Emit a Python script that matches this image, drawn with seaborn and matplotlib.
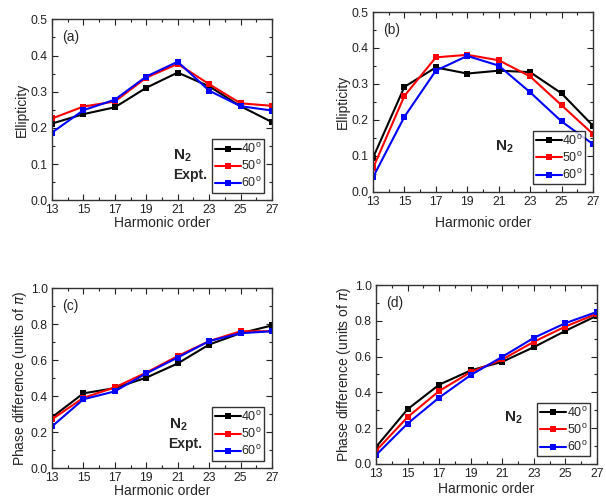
import numpy as np
import pandas as pd
import matplotlib
matplotlib.use("Agg")
import matplotlib.pyplot as plt
from matplotlib.ticker import MultipleLocator
import seaborn as sns

# harmonic orders
harmonics = [13, 15, 17, 19, 21, 23, 25, 27]
angles = ["40", "50", "60"]

# (a) ellipticity, experiment
ell_exp_40 = [0.212, 0.238, 0.257, 0.311, 0.353, 0.315, 0.260, 0.216]
ell_exp_50 = [0.226, 0.259, 0.273, 0.339, 0.377, 0.321, 0.268, 0.261]
ell_exp_60 = [0.187, 0.249, 0.278, 0.342, 0.383, 0.303, 0.260, 0.248]

# (b) ellipticity, theory
ell_th_40 = [0.095, 0.292, 0.346, 0.329, 0.337, 0.333, 0.274, 0.184]
ell_th_50 = [0.066, 0.267, 0.374, 0.381, 0.366, 0.321, 0.241, 0.161]
ell_th_60 = [0.041, 0.209, 0.337, 0.378, 0.351, 0.277, 0.196, 0.133]

# (c) phase difference, experiment
ph_exp_40 = [0.282, 0.415, 0.444, 0.502, 0.581, 0.686, 0.749, 0.792]
ph_exp_50 = [0.271, 0.390, 0.448, 0.530, 0.622, 0.705, 0.760, 0.760]
ph_exp_60 = [0.231, 0.382, 0.426, 0.526, 0.614, 0.705, 0.749, 0.760]

# (d) phase difference, theory
ph_th_40 = [0.095, 0.306, 0.443, 0.523, 0.571, 0.653, 0.744, 0.829]
ph_th_50 = [0.074, 0.262, 0.408, 0.514, 0.584, 0.683, 0.768, 0.840]
ph_th_60 = [0.050, 0.226, 0.371, 0.497, 0.599, 0.705, 0.787, 0.850]

sns.set_style("ticks")
plt.rcParams['font.family'] = ['Liberation Sans', 'DejaVu Sans']
plt.rcParams['mathtext.fontset'] = 'custom'
plt.rcParams['mathtext.rm'] = 'Liberation Sans'
plt.rcParams['mathtext.bf'] = 'Liberation Sans:bold'

colors = {"40": "black", "50": "red", "60": "blue"}


def make_df(s40, s50, s60):
    rows = []
    for ang, vals in zip(angles, [s40, s50, s60]):
        for h, v in zip(harmonics, vals):
            rows.append({"harmonic": h, "value": v, "angle": ang})
    return pd.DataFrame(rows)


# tag, data, ylabel, ymax, ystep, expt?, axes rect, N2 text position, xlabel pad
panels = [
    ("(a)", make_df(ell_exp_40, ell_exp_50, ell_exp_60), "Ellipticity", 0.5, 0.1, True,
     [0.0858, 0.598, 0.363, 0.363], (0.55, 0.245), 0),
    ("(b)", make_df(ell_th_40, ell_th_50, ell_th_60), "Ellipticity", 0.5, 0.1, False,
     [0.6155, 0.6145, 0.363, 0.3614], (0.555, 0.25), 6),
    ("(c)", make_df(ph_exp_40, ph_exp_50, ph_exp_60), r"Phase difference (units of $\pi$)", 1.0, 0.2, True,
     [0.0858, 0.0602, 0.363, 0.3614], (0.53, 0.24), 0),
    ("(d)", make_df(ph_th_40, ph_th_50, ph_th_60), r"Phase difference (units of $\pi$)", 1.0, 0.2, False,
     [0.6205, 0.0683, 0.3647, 0.3594], (0.58, 0.26), 1.5),
]

fig = plt.figure(figsize=(6.06, 4.98), dpi=100)

for tag, df, ylab, ymax, ystep, expt, pos, npos, xpad in panels:
    ax = fig.add_axes(pos)
    for ang in angles:
        sub = df[df["angle"] == ang]
        sns.lineplot(data=sub, x="harmonic", y="value", ax=ax, color=colors[ang],
                     marker="s", markersize=4.5, markeredgewidth=0, linewidth=1.5,
                     label="%s$^{\\rm o}$" % ang)
    ax.set_xlim(13, 27)
    ax.set_ylim(0, ymax)
    ax.set_xticks(harmonics)
    ax.xaxis.set_minor_locator(MultipleLocator(1))
    ax.yaxis.set_major_locator(MultipleLocator(ystep))
    ax.yaxis.set_minor_locator(MultipleLocator(ystep / 2))
    ax.yaxis.set_major_formatter(plt.FormatStrFormatter("%.1f"))
    ax.tick_params(which="both", direction="in", top=True, right=True, labelsize=8.8, pad=3,
                   colors="#222222")
    ax.tick_params(which="major", length=4, width=0.8)
    ax.tick_params(which="minor", length=2, width=0.8)
    for sp in ax.spines.values():
        sp.set_linewidth(1.0)
        sp.set_color("#333333")
    ax.set_xlabel("Harmonic order", fontsize=10, labelpad=xpad)
    ax.set_ylabel(ylab, fontsize=10, labelpad=1)
    ax.text(0.045, 0.94, tag, transform=ax.transAxes, fontsize=10, va="top", ha="left")
    leg = ax.legend(loc="lower right", fontsize=9, frameon=True, fancybox=False,
                    edgecolor="black", handlelength=2.1, handletextpad=0.05,
                    borderpad=0.2, labelspacing=0.25, borderaxespad=0.6)
    leg.get_frame().set_linewidth(1.0)
    ax.text(npos[0], npos[1], "N$_\\mathbf{2}$", transform=ax.transAxes, fontsize=11,
            fontweight="bold", ha="left", va="center")
    if expt:
        ax.text(npos[0], npos[1] - 0.105, "Expt.", transform=ax.transAxes, fontsize=10,
                fontweight="bold", ha="left", va="center")

plt.savefig("out.png", dpi=100)
